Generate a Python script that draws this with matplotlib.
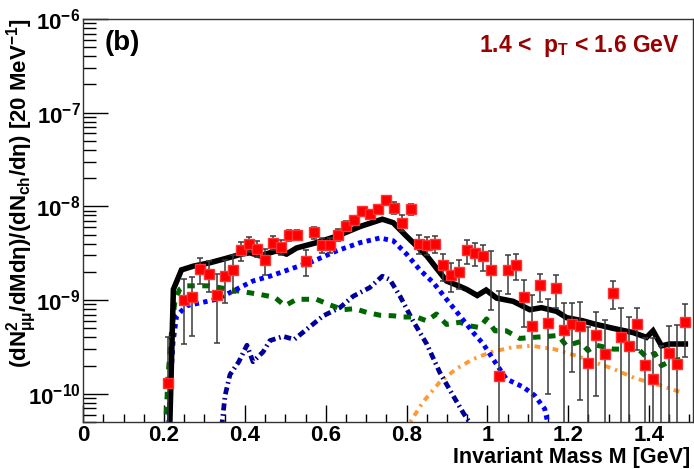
import numpy as np
from matplotlib import pyplot as plt
from matplotlib.ticker import FixedLocator, MultipleLocator, NullFormatter

plt.rcParams['font.family'] = ['Liberation Sans', 'DejaVu Sans']
plt.rcParams['font.weight'] = 'bold'
plt.rcParams['mathtext.fontset'] = 'custom'
plt.rcParams['mathtext.rm'] = 'Liberation Sans:bold'
plt.rcParams['mathtext.it'] = 'Liberation Sans:bold'
plt.rcParams['mathtext.bf'] = 'Liberation Sans:bold'

# measured dimuon spectrum (20 MeV bins)
mass = [0.21, 0.25, 0.27, 0.29, 0.31, 0.33, 0.35, 0.37, 0.39, 0.41,
        0.43, 0.45, 0.47, 0.49, 0.51, 0.53, 0.55, 0.57, 0.59, 0.61,
        0.63, 0.65, 0.67, 0.69, 0.71, 0.73, 0.75, 0.77, 0.79, 0.81,
        0.83, 0.85, 0.87, 0.89, 0.91, 0.93, 0.95, 0.97, 0.99, 1.01,
        1.03, 1.05, 1.07, 1.09, 1.11, 1.13, 1.15, 1.17, 1.19, 1.21,
        1.23, 1.25, 1.27, 1.29, 1.31, 1.33, 1.35, 1.37, 1.39, 1.41,
        1.43, 1.45, 1.47, 1.49]
yield_data = [1.3e-10, 1.0e-9, 1.08e-9, 2.14e-9, 1.92e-9, 1.13e-9, 1.8e-9, 2.1e-9, 3.4e-9, 4.0e-9,
              3.55e-9, 2.7e-9, 4.1e-9, 3.7e-9, 4.9e-9, 5.0e-9, 2.6e-9, 5.3e-9, 3.85e-9, 3.85e-9,
              5.0e-9, 6.2e-9, 7.1e-9, 8.9e-9, 8.2e-9, 9.3e-9, 1.16e-8, 9.7e-9, 6.7e-9, 9.3e-9,
              4.0e-9, 3.9e-9, 4.0e-9, 2.36e-9, 1.85e-9, 2.0e-9, 3.4e-9, 3.2e-9, 2.97e-9, 2.08e-9,
              1.54e-10, 2.08e-9, 2.38e-9, 1.08e-9, 5.25e-10, 1.44e-9, 5.7e-10, 1.34e-9, 4.8e-10, 5.5e-10,
              5.25e-10, 2.14e-10, 4.25e-10, 2.63e-10, 1.19e-9, 4.0e-10, 3.27e-10, 5.6e-10, 2.04e-10, 1.44e-10,
              2.0e-11, 2.73e-10, 2.1e-10, 5.8e-10]
yield_err = [2.7e-10, 6.6e-10, 6.7e-10, 6.6e-10, 7.0e-10, 7.8e-10, 8.7e-10, 9.0e-10, 8.0e-10, 7.0e-10,
             7.0e-10, 8.3e-10, 7.0e-10, 7.0e-10, 6.5e-10, 6.5e-10, 8.0e-10, 8.0e-10, 7.0e-10, 7.0e-10,
             7.0e-10, 8.0e-10, 8.0e-10, 9.0e-10, 9.0e-10, 9.0e-10, 1.0e-9, 1.4e-9, 1.3e-9, 1.2e-9,
             9.0e-10, 8.5e-10, 8.5e-10, 7.5e-10, 6.2e-10, 7.0e-10, 1.0e-9, 9.0e-10, 9.5e-10, 1.3e-9,
             1.1e-9, 9.3e-10, 7.5e-10, 5.7e-10, 6.0e-10, 4.8e-10, 4.7e-10, 5.2e-10, 4.4e-10, 3.8e-10,
             4.4e-10, 3.0e-10, 3.3e-10, 3.5e-10, 3.9e-10, 4.3e-10, 3.3e-10, 2.7e-10, 1.9e-10, 2.5e-10,
             3.0e-10, 2.6e-10, 3.3e-10, 3.3e-10]

# total cocktail (black)
m_total = [0.210, 0.223, 0.243, 0.272, 0.313, 0.355, 0.392, 0.412, 0.437, 0.478,
           0.503, 0.528, 0.577, 0.627, 0.685, 0.740, 0.767, 0.800, 0.850, 0.899,
           0.932, 0.949, 0.975, 0.997, 1.023, 1.064, 1.105, 1.134, 1.171, 1.196,
           1.237, 1.262, 1.311, 1.361, 1.394, 1.410, 1.431, 1.451, 1.490]
y_total = [1e-11, 1.3e-9, 2.1e-9, 2.3e-9, 2.5e-9, 2.8e-9, 3.1e-9, 3.2e-9, 2.97e-9, 3.35e-9,
           3.1e-9, 3.6e-9, 4.1e-9, 4.8e-9, 6.1e-9, 7.3e-9, 6.7e-9, 4.8e-9, 2.97e-9, 1.6e-9,
           1.4e-9, 1.3e-9, 1.12e-9, 1.28e-9, 1.05e-9, 9.7e-10, 7.9e-10, 8.3e-10, 7.6e-10, 6.5e-10,
           6.0e-10, 5.6e-10, 5.0e-10, 4.5e-10, 4.0e-10, 4.7e-10, 3.25e-10, 3.4e-10, 3.4e-10]

# green dashed
m_green = [0.200, 0.210, 0.219, 0.227, 0.239, 0.252, 0.281, 0.313, 0.379, 0.437,
           0.474, 0.499, 0.528, 0.577, 0.610, 0.643, 0.672, 0.701, 0.734, 0.767,
           0.792, 0.825, 0.850, 0.874, 0.899, 0.932, 0.957, 0.981, 0.998, 1.019,
           1.047, 1.080, 1.113, 1.150, 1.175, 1.196, 1.229, 1.249, 1.270, 1.311,
           1.340, 1.369, 1.394, 1.414, 1.431, 1.456, 1.490]
y_green = [2e-11, 1.6e-10, 4.9e-10, 1.0e-9, 1.31e-9, 1.42e-9, 1.42e-9, 1.42e-9, 1.26e-9, 1.15e-9,
           1.07e-9, 8.7e-10, 1.02e-9, 1.02e-9, 8.9e-10, 7.9e-10, 8.1e-10, 7.4e-10, 6.9e-10, 6.8e-10,
           6.6e-10, 6.6e-10, 6.0e-10, 7.1e-10, 5.5e-10, 5.8e-10, 5.3e-10, 5.1e-10, 6.3e-10, 4.7e-10,
           4.7e-10, 3.9e-10, 4.0e-10, 4.1e-10, 4.2e-10, 3.25e-10, 3.6e-10, 2.9e-10, 3.3e-10, 3.0e-10,
           3.0e-10, 3.15e-10, 2.45e-10, 2.7e-10, 2.0e-10, 2.26e-10, 2.35e-10]

# blue dotted
m_blue = [0.208, 0.216, 0.222, 0.231, 0.256, 0.297, 0.330, 0.380, 0.420, 0.462,
          0.520, 0.569, 0.627, 0.685, 0.734, 0.767, 0.800, 0.833, 0.866, 0.899,
          0.932, 0.965, 0.990, 1.014, 1.047, 1.089, 1.117, 1.142, 1.160]
y_blue = [2e-11, 1.3e-10, 3.5e-10, 6.8e-10, 8.7e-10, 9.5e-10, 1.02e-9, 1.31e-9, 1.6e-9, 1.8e-9,
          2.2e-9, 2.6e-9, 3.35e-9, 4.1e-9, 4.6e-9, 4.3e-9, 3.1e-9, 2.1e-9, 1.54e-9, 1.02e-9,
          6.8e-10, 4.5e-10, 3.4e-10, 2.35e-10, 1.44e-10, 1.18e-10, 9.6e-11, 6.9e-11, 3e-11]

# navy dash-dot
m_navy = [0.338, 0.351, 0.363, 0.385, 0.405, 0.420, 0.445, 0.462, 0.495, 0.522,
          0.556, 0.594, 0.635, 0.668, 0.709, 0.740, 0.759, 0.784, 0.816, 0.850,
          0.882, 0.915, 0.940, 0.970]
y_navy = [3e-11, 9.6e-11, 1.6e-10, 2.2e-10, 3.3e-10, 2.2e-10, 2.8e-10, 3.7e-10, 4.1e-10, 3.8e-10,
          5.0e-10, 6.8e-10, 8.3e-10, 1.1e-9, 1.36e-9, 1.8e-9, 1.65e-9, 1.1e-9, 6.0e-10, 3.4e-10,
          1.7e-10, 9.6e-11, 6.3e-11, 4e-11]

# orange dash-dot
m_orange = [0.795, 0.841, 0.882, 0.924, 0.965, 1.010, 1.064, 1.110, 1.165, 1.220,
            1.262, 1.311, 1.365, 1.427, 1.476]
y_orange = [4e-11, 8.2e-11, 1.33e-10, 1.86e-10, 2.35e-10, 2.8e-10, 3.15e-10, 3.25e-10, 3.0e-10, 2.55e-10,
            2.2e-10, 1.85e-10, 1.47e-10, 1.23e-10, 1.05e-10]

x_ticks = [0, 0.2, 0.4, 0.6, 0.8, 1.0, 1.2, 1.4]
x_labels = ["0", "0.2", "0.4", "0.6", "0.8", "1", "1.2", "1.4"]
y_ticks = [1e-10, 1e-9, 1e-8, 1e-7, 1e-6]
y_labels = [r"$10^{-10}$", r"$10^{-9}$", r"$10^{-8}$", r"$10^{-7}$", r"$10^{-6}$"]

fig = plt.figure(figsize=(6.94, 4.69), dpi=100)
ax = fig.add_axes([0.12, 0.1002, 0.878, 0.8593])

ax.plot(m_orange, y_orange, color='#ff9933', lw=2.8, linestyle=(0, (1.5, 1.3, 0.6, 1.3)))
ax.plot(m_navy, y_navy, color='#000099', lw=3.4, linestyle=(0, (1.5, 0.8, 0.35, 0.8)))
ax.plot(m_green, y_green, color='#006600', lw=3.6, linestyle=(0, (1.5, 1.5)))
ax.plot(m_blue, y_blue, color='#0000ff', lw=3.5, linestyle=(0, (0.9, 0.9)))
ax.plot(m_total, y_total, color='black', lw=4.0, solid_joinstyle='miter')

ax.errorbar(mass, yield_data, yerr=yield_err, fmt='s', color='red', ms=7.5,
            mec='#ff3333', ecolor='#3a3a3a', elinewidth=1.1, capsize=2.2, capthick=1.1)

ax.set_yscale('log')
ax.set_xlim(0, 1.508)
ax.set_ylim(5.0e-11, 1e-6)

ax.xaxis.set_major_locator(FixedLocator(x_ticks))
ax.set_xticklabels(x_labels)
ax.xaxis.set_minor_locator(MultipleLocator(0.05))
ax.yaxis.set_major_locator(FixedLocator(y_ticks))
ax.set_yticklabels(y_labels)
ax.yaxis.set_minor_locator(FixedLocator([k * 10.0 ** e for e in range(-11, -6) for k in range(2, 10)]))
ax.yaxis.set_minor_formatter(NullFormatter())

ax.tick_params(axis='x', which='major', direction='in', length=12, width=1, labelsize=16, pad=2,
               top=False)
ax.tick_params(axis='x', which='minor', direction='in', length=6, width=1, top=False)
ax.tick_params(axis='y', which='major', direction='in', length=18, width=1, labelsize=16, pad=2,
               right=False)
ax.tick_params(axis='y', which='minor', direction='in', length=9, width=1, right=False)
for s in ax.spines.values():
    s.set_linewidth(1.0)
    s.set_color('#333333')

fig.text(22 / 694, 1 - 18 / 469,
         r"(dN$^{2}_{\mu\mu}$/dMd$\eta$)/(dN$_{ch}$/d$\eta$) [20 MeV$^{-1}$]",
         rotation=90, ha='center', va='top', fontsize=16, fontweight='bold')
fig.text(690 / 694, 1 - 463 / 469, "Invariant Mass M [GeV]", ha='right', va='baseline',
         fontsize=15.5, fontweight='bold')
fig.text(105 / 694, 1 - 30 / 469, "(b)", ha='left', va='top', fontsize=20, fontweight='bold')
fig.text(680 / 694, 1 - 52 / 469, r"1.4 <  p$_{T}$ < 1.6 GeV", ha='right', va='baseline',
         fontsize=16.5, fontweight='bold', color='#990000')

fig.savefig('out.png', dpi=100)
